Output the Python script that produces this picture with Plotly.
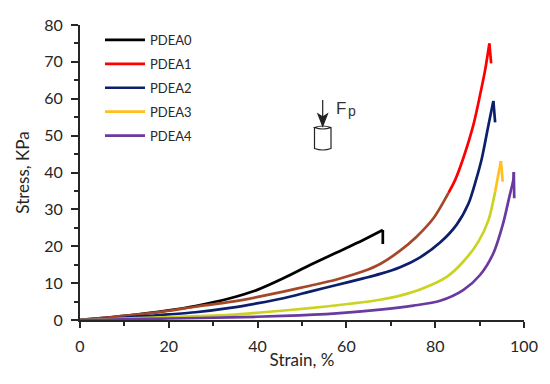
import plotly.graph_objects as go

FONT = "Lato"
INK = "#262626"

# Series values
x0 = [0, 10, 20, 26, 33.8, 39.8, 45.8, 51.8, 57.8, 63.8, 68.2, 68.2]
y0 = [0, 1.1, 2.6, 3.8, 5.9, 8.1, 11.3, 14.9, 18.3, 21.7, 24.4, 20.6]

x1_low = [0, 10, 20, 26, 33.8, 39.8, 45.8, 51.8, 57.8, 63.8, 67.6, 72.1, 75.8, 79.6, 83]
y1_low = [0, 1.1, 2.5, 3.6, 4.9, 6.2, 7.7, 9.3, 11, 13.2, 15.2, 18.8, 22.6, 27.6, 34.5]
x1_high = [83, 84.5, 86.3, 88.6, 90.1, 91.2, 92.2, 92.6]
y1_high = [34.5, 38, 43.8, 52.9, 61, 67.5, 75, 69.6]

x2 = [0, 10, 20, 26, 33.8, 39.8, 45.8, 51.8, 57.8, 63.8, 67.6, 72.1, 76.6, 81.1, 84.8, 87.5, 89.2, 90.5, 92, 93.1, 93.5]
y2 = [0, 0.6, 1.5, 2.1, 3.3, 4.5, 5.9, 7.7, 9.5, 11.3, 12.5, 14.3, 17, 21, 25.8, 31.6, 38, 43.8, 52.9, 59.4, 53.6]

x3_low = [0, 10, 20, 33.8, 41.3, 51.8, 60.8, 67.6, 72.1, 77.3, 82.6, 86.3, 89.7, 92, 93.5]
y3_low = [0, 0.4, 0.8, 1.4, 2.1, 3.2, 4.4, 5.5, 6.6, 8.6, 11.7, 15.8, 21.2, 27.1, 34.8]
x3_high = [93.5, 94.8, 95.2]
y3_high = [34.8, 43.1, 37.5]

x4 = [0, 10, 20, 33.8, 45.8, 57.8, 67.6, 75.1, 81.1, 86.3, 90.1, 93.1, 95.3, 96.7, 97.6, 97.7, 97.8]
y4 = [0, 0.2, 0.4, 0.7, 1.1, 1.8, 2.8, 3.9, 5.2, 8.1, 12.2, 18.1, 26.2, 33.4, 38, 40.1, 33]

x_ticks = [0, 20, 40, 60, 80, 100]
y_ticks = [0, 10, 20, 30, 40, 50, 60, 70, 80]
x_minor = [10, 30, 50, 70, 90]
y_minor = [5, 15, 25, 35, 45, 55, 65, 75]

fig = go.Figure()


def add(x, y, name, color, legend=True, width=2.7, shape="spline"):
    fig.add_trace(go.Scatter(
        x=x, y=y, name=name, mode="lines", showlegend=legend, legendgroup=name,
        line=dict(color=color, width=width, shape=shape, smoothing=0.8),
        hoverinfo="skip",
    ))


def add_with_drop(x, y, name, color, legend=True):
    """Smooth rising curve, then the straight drop after the peak."""
    add(x[:-1], y[:-1], name, color, legend=legend)
    add(x[-2:], y[-2:], name, color, legend=False, shape="linear")


add_with_drop(x0, y0, "PDEA0", "#000000")
add_with_drop(x1_high, y1_high, "PDEA1", "#FF0000")
add(x1_low, y1_low, "PDEA1", "#A5482A", legend=False)
add_with_drop(x2, y2, "PDEA2", "#0B1F6B")
add_with_drop(x3_high, y3_high, "PDEA3", "#FFC020")
add(x3_low, y3_low, "PDEA3", "#CBD322", legend=False)
add_with_drop(x4, y4, "PDEA4", "#6A3AA0")

# The page sits 8 px in from the window edge; plot area spans 80-524 by 25-320 in the window.
W, H = 444.0, 295.0


def px(p):
    return (p - 80) / W


def py(p):
    return (320 - p) / H


shape_line = dict(color="#222222", width=1.2)
cl, cr, ct, cb = px(314.5), px(331), py(127.5), py(148.5)
cm = (cl + cr) / 2
cyl = (f"M {cl} {ct} L {cl} {cb} Q {cm} {py(151.5)} {cr} {cb} L {cr} {ct} "
       f"Q {cm} {py(124.5)} {cl} {ct} Q {cm} {py(130.5)} {cr} {ct}")
stem = f"M {px(322.7)} {py(100)} L {px(322.7)} {py(118)}"
head = (f"M {px(318)} {py(114)} L {px(322.7)} {py(126)} L {px(327.4)} {py(114)} "
        f"L {px(322.7)} {py(117)} Z")

fig.update_layout(
    width=534, height=368, autosize=False,
    margin=dict(l=72, r=18, t=17, b=56, autoexpand=False),
    paper_bgcolor="white", plot_bgcolor="white",
    font=dict(family=FONT, color=INK),
    xaxis=dict(
        range=[0, 100], tickvals=x_ticks, ticks="outside", ticklen=6, tickwidth=1.5,
        tickcolor=INK, showline=True, linecolor=INK, linewidth=1.5, showgrid=False,
        zeroline=False, automargin=False, ticklabelstandoff=5,
        tickfont=dict(size=16, family=FONT, color=INK),
        title=dict(text="Strain, %", font=dict(size=17, family=FONT, color=INK), standoff=0),
        minor=dict(tickvals=x_minor, ticks="outside", ticklen=4, tickwidth=1.5,
                   tickcolor=INK, showgrid=False),
    ),
    yaxis=dict(
        range=[0, 80], tickvals=y_ticks, ticks="outside", ticklen=7, tickwidth=1.5,
        tickcolor=INK, showline=True, linecolor=INK, linewidth=2, showgrid=False,
        zeroline=False, automargin=False, ticklabelstandoff=5,
        tickfont=dict(size=16, family=FONT, color=INK),
        title=dict(text="Stress, KPa", font=dict(size=17, family=FONT, color=INK), standoff=10),
        minor=dict(tickvals=y_minor, ticks="outside", ticklen=4,
                   tickwidth=1.5, tickcolor=INK, showgrid=False),
    ),
    legend=dict(
        x=0.045, y=1.0, xanchor="left", yanchor="top", bgcolor="rgba(0,0,0,0)",
        font=dict(size=13, family=FONT, color=INK), itemwidth=40,
        traceorder="grouped", tracegroupgap=4,
    ),
    shapes=[
        dict(type="path", xref="x domain", yref="y domain", line=shape_line, path=cyl),
        dict(type="path", xref="x domain", yref="y domain", line=shape_line, path=stem),
        dict(type="path", xref="x domain", yref="y domain", line=shape_line, path=head,
             fillcolor="#222222"),
    ],
)

fig.add_annotation(x=px(334), y=py(108), xref="x domain", yref="y domain", xanchor="left",
                   yanchor="middle", text="F", showarrow=False,
                   font=dict(size=17, family="Liberation Sans", color="#333333"))
fig.add_annotation(x=px(346), y=py(111), xref="x domain", yref="y domain", xanchor="left",
                   yanchor="middle", text="p", showarrow=False,
                   font=dict(size=14, family="Liberation Sans", color="#333333"))

fig.write_html("out.html")
